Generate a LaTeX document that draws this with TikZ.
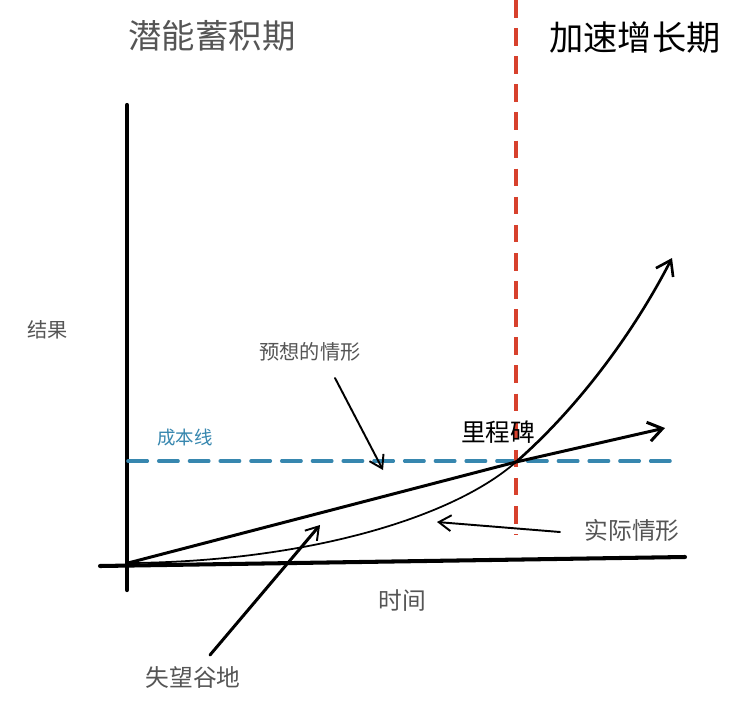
\documentclass[tikz,border=0pt]{standalone}
\usepackage{fontspec}
\setmainfont{Noto Sans CJK SC}
\usepackage{tikz}
\usetikzlibrary{arrows.meta}
\definecolor{costblue}{RGB}{55,135,175}
\definecolor{markred}{RGB}{215,65,45}
\definecolor{labgray}{RGB}{85,85,85}
\tikzset{
  lab/.style={text=labgray, font=\fontsize{13.5}{15}\selectfont, inner sep=1pt},
  head/.style={font=\fontsize{19.5}{22}\selectfont, inner sep=1pt},
  pointer/.style={line width=1.1pt, -{Straight Barb[length=7pt,width=9pt,line width=1.1pt]}}
}
\begin{document}
\begin{tikzpicture}[x=0.02cm, y=-0.02cm, line cap=round]
	\useasboundingbox[fill=white] (0,0) rectangle (748,704);
	% axes
	\coordinate (o) at (128,563);
	\draw[line width=2.4pt] (127,105) -- (127,590);
	\draw[line width=2.3pt] (100,566) -- (685,557);
	% cost line and milestone
	\draw[costblue, line width=2pt, dash pattern=on 11pt off 6.5pt] (128,461) -- (680,461);
	\draw[markred, line width=2.2pt, dash pattern=on 10pt off 6pt, line cap=butt] (516,0) -- (516,535);
	\coordinate (m) at (516,462);
	% expected and actual
	\draw[line width=1.7pt, -{Straight Barb[length=8pt,width=11pt,line width=1.7pt]}] (o) -- (m) -- (665,428);
	\draw[line width=1pt] (o) .. controls (300,562) and (450,520) .. (m);
	\draw[line width=1.5pt, -{Straight Barb[length=8pt,width=11pt,line width=1.5pt]}] (m) .. controls (580,406) and (635,330) .. (672,258);
	% labels
	\node[head, text=labgray, font=\fontsize{19}{22}\selectfont] (t1) at (212,36) {潜能蓄积期};
	\node[head] (t2) at (635,38) {加速增长期};
	\node[lab, font=\fontsize{11.5}{13}\selectfont] (res) at (48,330) {结果};
	\node[lab] (time) at (402,601) {时间};
	\node[lab, text=costblue, font=\fontsize{10.5}{12}\selectfont] (cost) at (185,438) {成本线};
	\node[font=\fontsize{14}{16}\selectfont, inner sep=1pt] (mile) at (498,432) {里程碑};
	\node[lab, font=\fontsize{11.5}{13}\selectfont] (exp) at (310,352) {预想的情形};
	\node[lab] (act) at (632,530) {实际情形};
	\node[lab] (gap) at (193,677) {失望谷地};
	% pointers
	\coordinate (pexp) at (383,470);
	\coordinate (pact) at (437,522);
	\coordinate (pgap) at (320,525);
	\draw[pointer] (335,378) -- (pexp);
	\draw[pointer] (560,532) -- (pact);
	\draw[pointer, line width=1.7pt] (210,655) -- (pgap);
\end{tikzpicture}
\end{document}
